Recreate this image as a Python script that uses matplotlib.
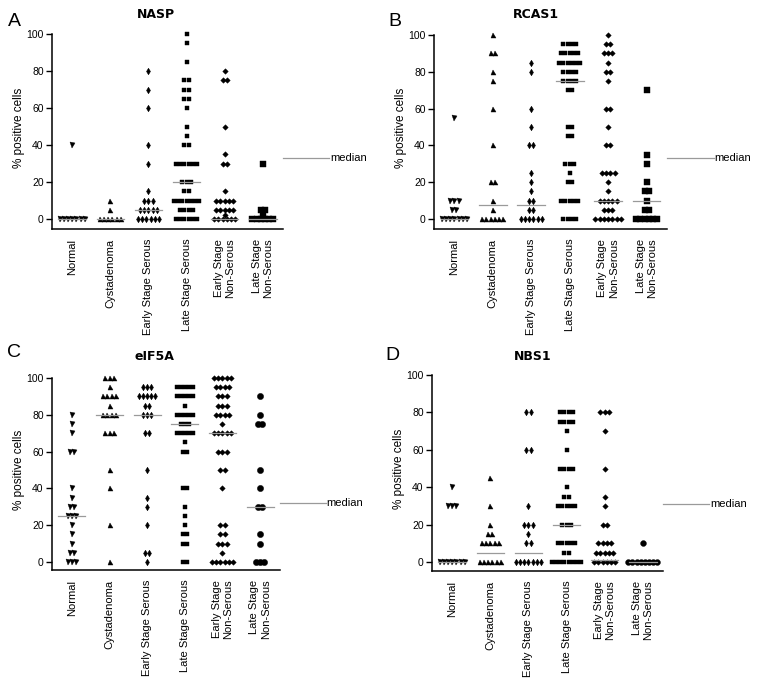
import numpy as np
import matplotlib
matplotlib.use("Agg")
import matplotlib.pyplot as plt
from collections import Counter

plt.rcParams['font.family'] = ['Liberation Sans', 'DejaVu Sans']

categories = ["Normal", "Cystadenoma", "Early Stage Serous", "Late Stage Serous",
              "Early Stage\nNon-Serous", "Late Stage\nNon-Serous"]

# ---------------- NASP ----------------
nasp_normal = [40, 0, 0, 0, 0, 0, 0, 0]
nasp_cyst = [10, 5, 0, 0, 0, 0, 0, 0]
nasp_ess = [80, 70, 60, 40, 30, 15, 10, 10, 10, 5, 5, 5, 5, 5, 0, 0, 0, 0, 0, 0]
nasp_lss = [100, 95, 85, 75, 75, 70, 70, 65, 65, 60, 50, 45, 40, 40,
            30, 30, 30, 30, 30, 30, 20, 20, 20, 15, 15,
            10, 10, 10, 10, 10, 10, 10, 5, 5, 5, 5, 0, 0, 0, 0, 0, 0]
nasp_esns = [80, 75, 75, 50, 35, 30, 30, 15, 10, 10, 10, 10, 10,
             5, 5, 5, 5, 5, 2, 0, 0, 0, 0, 0, 0]
nasp_lsns = [30, 5, 5, 2, 0, 0, 0, 0, 0, 0]
nasp_medians = [0, 0, 5, 20, 0, 0]

# ---------------- RCAS1 ----------------
rcas_normal = [55, 10, 10, 10, 5, 5, 0, 0, 0, 0, 0, 0, 0]
rcas_cyst = [100, 90, 90, 80, 75, 60, 40, 20, 20, 10, 5, 0, 0, 0, 0, 0, 0]
rcas_ess = [85, 80, 60, 50, 40, 40, 25, 20, 15, 10, 10, 5, 5, 0, 0, 0, 0, 0, 0]
rcas_lss = [95, 95, 95, 95, 90, 90, 90, 90, 90, 85, 85, 85, 85, 85, 85,
            80, 80, 80, 80, 75, 75, 75, 75, 70, 70, 50, 50, 45, 45,
            30, 30, 30, 25, 20, 20, 10, 10, 10, 10, 10, 0, 0, 0, 0]
rcas_esns = [100, 95, 95, 90, 90, 90, 85, 80, 80, 75, 60, 60, 50, 40, 40,
             25, 25, 25, 25, 20, 15, 10, 10, 10, 10, 10, 5, 5, 5,
             0, 0, 0, 0, 0, 0, 0]
rcas_lsns = [70, 35, 30, 20, 15, 15, 10, 5, 5, 0, 0, 0, 0, 0, 0]
rcas_medians = [0, 7.5, 7.5, 75, 10, 10]

# ---------------- eIF5A ----------------
eif_normal = [80, 75, 70, 60, 60, 40, 35, 30, 30, 25, 25, 25, 20, 15, 10, 5, 5, 0, 0, 0]
eif_cyst = [100, 100, 100, 95, 90, 90, 90, 90, 85, 80, 80, 80, 80, 70, 70, 70, 50, 40, 20, 0]
eif_ess = [95, 95, 95, 90, 90, 90, 90, 90, 85, 85, 80, 80, 80, 70, 70, 50, 35, 30, 20, 5, 5, 0]
eif_lss = [95, 95, 95, 95, 95, 90, 90, 90, 90, 90, 85, 80, 80, 80, 80, 80,
           75, 75, 75, 70, 70, 70, 70, 70, 65, 60, 60, 40, 40, 30, 25, 20,
           15, 15, 10, 10, 0, 0]
eif_esns = [100, 100, 100, 100, 100, 95, 95, 95, 95, 90, 90, 90, 85, 85, 85,
            80, 80, 80, 80, 75, 70, 70, 70, 70, 70, 60, 60, 60, 50, 50, 40,
            20, 20, 15, 15, 10, 10, 10, 5, 0, 0, 0, 0, 0, 0]
eif_lsns = [90, 80, 75, 75, 50, 40, 30, 30, 15, 10, 0, 0, 0]
eif_medians = [25, 80, 80, 75, 70, 30]

# ---------------- NBS1 ----------------
nbs_normal = [40, 30, 30, 30, 0, 0, 0, 0, 0, 0, 0]
nbs_cyst = [45, 30, 20, 15, 15, 10, 10, 10, 10, 10, 0, 0, 0, 0, 0, 0]
nbs_ess = [80, 80, 60, 60, 30, 20, 20, 20, 15, 10, 10, 0, 0, 0, 0, 0, 0, 0]
nbs_lss = [80, 80, 80, 80, 75, 75, 75, 75, 70, 60, 50, 50, 50, 50, 40, 35, 35,
           30, 30, 30, 30, 30, 20, 20, 20, 10, 10, 10, 10, 10, 5, 5,
           0, 0, 0, 0, 0, 0, 0, 0]
nbs_esns = [80, 80, 80, 70, 50, 35, 30, 20, 20, 10, 10, 10, 10,
            5, 5, 5, 5, 5, 0, 0, 0, 0, 0, 0]
nbs_lsns = [10, 0, 0, 0, 0, 0, 0, 0, 0]
nbs_medians = [0, 5, 5, 20, 1, 0]

panels = [
    dict(title="NASP", letter="A", groups=[nasp_normal, nasp_cyst, nasp_ess, nasp_lss, nasp_esns, nasp_lsns],
         medians=nasp_medians, px=(52, 283, 34, 219, 229), med_y=33, last_marker='s', last_ms=4.5,
         title_xy=(156, 14), letter_xy=(14, 22)),
    dict(title="RCAS1", letter="B", groups=[rcas_normal, rcas_cyst, rcas_ess, rcas_lss, rcas_esns, rcas_lsns],
         medians=rcas_medians, px=(434, 667, 35, 219, 229), med_y=33, last_marker='s', last_ms=4.0,
         title_xy=(536, 15), letter_xy=(395, 22)),
    dict(title="eIF5A", letter="C", groups=[eif_normal, eif_cyst, eif_ess, eif_lss, eif_esns, eif_lsns],
         medians=eif_medians, px=(52, 280, 378, 562, 570), med_y=32, last_marker='o', last_ms=4.5,
         title_xy=(154, 356), letter_xy=(14, 353)),
    dict(title="NBS1", letter="D", groups=[nbs_normal, nbs_cyst, nbs_ess, nbs_lss, nbs_esns, nbs_lsns],
         medians=nbs_medians, px=(432, 663, 375, 562, 571), med_y=31, last_marker='o', last_ms=4.2,
         title_xy=(533, 356), letter_xy=(392, 355)),
]

W, H = 762, 685
fig = plt.figure(figsize=(W / 100, H / 100), dpi=100)

base_markers = ['v', '^', 'd', 's', 'D']
base_ms = [3.6, 3.6, 3.4, 3.4, 2.8]
step = 0.11

for p in panels:
    left, right, y100, y0, ybot = p['px']
    ppu = (y0 - y100) / 100.0
    ymin = -(ybot - y0) / ppu
    ymax = 104
    top = y100 - 4 * ppu
    ax = fig.add_axes([left / W, 1 - ybot / H, (right - left) / W, (ybot - top) / H])
    ax.set_xlim(-0.53, 5.53)
    ax.set_ylim(ymin, ymax)
    for s in ['top', 'right']:
        ax.spines[s].set_visible(False)
    ax.spines['left'].set_bounds(ymin, 100)
    ax.spines['left'].set_linewidth(1.1)
    ax.spines['bottom'].set_linewidth(1.1)

    for i, vals in enumerate(p['groups']):
        marker = base_markers[i] if i < 5 else p['last_marker']
        ms = base_ms[i] if i < 5 else p['last_ms']
        cnt = Counter(vals)
        xs, ys = [], []
        for v, n in cnt.items():
            offs = (np.arange(n) - (n - 1) / 2.0) * step
            xs.extend(i + offs)
            ys.extend([v] * n)
        ax.plot(xs, ys, linestyle='none', marker=marker, ms=ms, color='black',
                markeredgewidth=0.3, clip_on=False, zorder=3)
        m = p['medians'][i]
        ax.plot([i - 0.36, i + 0.36], [m, m], color='#9a9a9a', lw=0.9, zorder=4)

    ax.set_yticks([0, 20, 40, 60, 80, 100])
    ax.tick_params(axis='y', length=4, width=1, labelsize=7.5, pad=2)
    ax.set_xticks(range(6))
    ax.set_xticklabels(categories, rotation=90, fontsize=8, va='top', ha='center',
                       multialignment='right')
    ax.tick_params(axis='x', length=0, pad=7)
    ax.set_ylabel("% positive cells", fontsize=8.5, labelpad=1)

    # median legend line
    tr = ax.get_yaxis_transform()
    ax.plot([1.0, 1.2], [p['med_y'], p['med_y']], color='#9a9a9a', lw=0.9,
            transform=tr, clip_on=False)
    ax.text(1.205, p['med_y'], "median", transform=tr, fontsize=8, va='center', ha='left')

    tx, ty = p['title_xy']
    fig.text(tx / W, 1 - ty / H, p['title'], fontsize=9, fontweight='bold',
             family='DejaVu Sans', ha='center', va='center')
    lx, ly = p['letter_xy']
    fig.text(lx / W, 1 - ly / H, p['letter'], fontsize=14, ha='center', va='center')

fig.savefig("out.png", dpi=100)
